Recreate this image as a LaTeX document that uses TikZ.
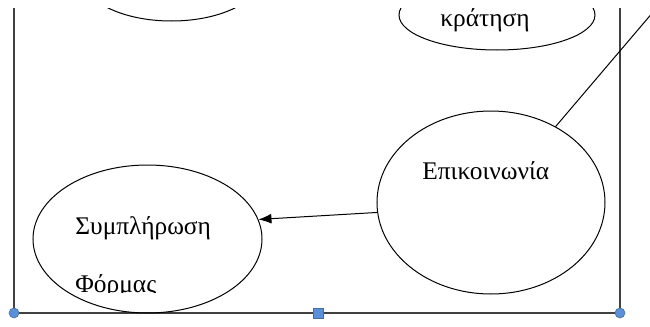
\documentclass[tikz,border=0pt]{standalone}
\usepackage{fontspec}
\setmainfont{Liberation Serif}
\usepackage{tikz}
\usetikzlibrary{shapes.geometric, arrows.meta}
\definecolor{handleblue}{HTML}{5B8FD9}
\definecolor{handleedge}{HTML}{41719C}
\tikzstyle{usecase}=[ellipse, draw, line width=0.5pt, inner sep=0pt]
\tikzstyle{uctext}=[anchor=base west, inner sep=0pt, font=\fontsize{12.7}{15}\selectfont]
\tikzstyle{handle}=[fill=handleblue, draw=handleedge, line width=0.3pt, inner sep=0pt, minimum size=5pt]

\begin{document}
\begin{tikzpicture}[x=0.5pt, y=-0.5pt]
      \useasboundingbox (0,0) rectangle (650,327);
      \clip (0,8.5) rectangle (650,327);
      % system boundary
      \coordinate (b1) at (14,0);
      \coordinate (b2) at (14,313);
      \coordinate (b3) at (620,313);
      \coordinate (b4) at (620,0);
      \draw[line width=0.6pt, draw=black!75] (b1) -- (b2) -- (b3) -- (b4);
      % use cases
      \node[usecase, minimum width=90pt, minimum height=45pt](hidden) at (171.5,-24) {};
      \node[usecase, minimum width=98pt, minimum height=35pt](kratisi) at (497,15) {};
      \node[usecase, minimum width=114pt, minimum height=91.5pt](epikoinonia) at (491,202.5) {};
      \node[usecase, minimum width=114.5pt, minimum height=74pt](forma) at (147.5,239) {};
      \node[uctext](kratisitext) at (440,26.7) {κράτηση};
      \node[uctext](epikoinoniatext) at (422,179) {Επικοινωνία};
      \node[uctext](formatext1) at (75,234) {Συμπλήρωση};
      \begin{scope}
        \clip (60,255) rectangle (220,292);
        \node[uctext](formatext2) at (75,292) {Φόρμας};
      \end{scope}
      \coordinate (actor) at (680,-19.6);
      \begin{scope}[every path/.style={line width=0.5pt}]
        \draw (epikoinonia) -- (actor);
        \draw[-{Latex[length=6.5pt, width=5pt]}] (epikoinonia.185) -- (forma.10);
      \end{scope}
      % selection handles
      \node[handle, circle](h1) at (b2) {};
      \node[handle, rectangle](h2) at (318,313) {};
      \node[handle, circle](h3) at (b3) {};
    \end{tikzpicture}
\end{document}
